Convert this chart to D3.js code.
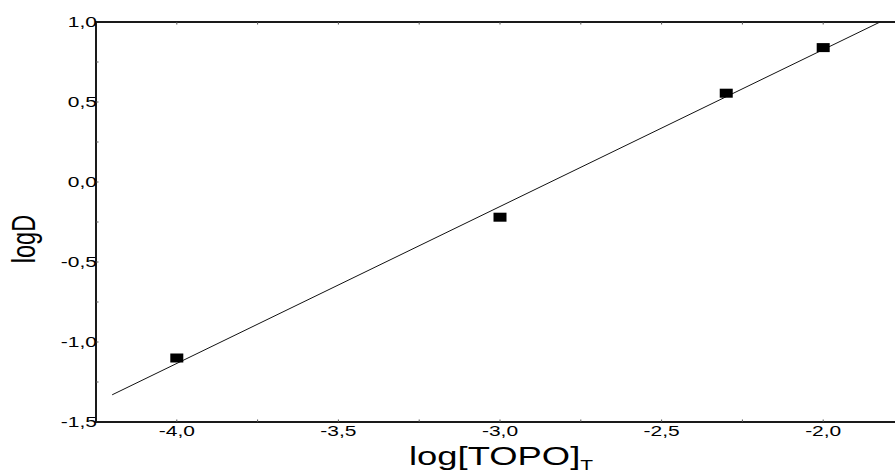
<!DOCTYPE html>
<html>
<head>
<meta charset="utf-8">
<script src="https://cdn.jsdelivr.net/npm/d3@7"></script>
<style>
  html, body { margin: 0; padding: 0; background: #fff; }
  svg { display: block; }
  text { font-family: "Liberation Sans", Arial, Helvetica, sans-serif; fill: #000; }
</style>
</head>
<body>
<svg id="chart" width="895" height="472"></svg>
<script>
// ---- data ----
const logTOPO = [-4.0, -3.0, -2.3, -2.0];
const logD = [-1.10, -0.22, 0.555, 0.84];
const fitX = [-4.2, -1.824];
const fitY = [-1.33, 1.0];
const xTickValues = [-4.0, -3.5, -3.0, -2.5, -2.0];
const xTickLabels = ["-4,0", "-3,5", "-3,0", "-2,5", "-2,0"];
const yTickValues = [1.0, 0.5, 0.0, -0.5, -1.0, -1.5];
const yTickLabels = ["1,0", "0,5", "0,0", "-0,5", "-1,0", "-1,5"];
const xMinorTicks = [-4.0, -3.75, -3.5, -3.25, -3.0, -2.75, -2.5, -2.25, -2.0];
const yMinorTicks = [0.75, 0.5, 0.25, 0.0, -0.25, -0.5, -0.75, -1.0, -1.25];

// ---- layout ----
const svg = d3.select("#chart");
const mLeft = 96, mTop = 22, mBottom = 422, mRight = 904;
const sx = 1.4; // horizontal stretch of text in the reference

const x = d3.scaleLinear().domain([-4.25, -1.75]).range([mLeft, mRight]);
const y = d3.scaleLinear().domain([-1.5, 1.0]).range([mBottom, mTop]);

// frame
const frame = svg.append("g").attr("stroke", "#1a1a1a").attr("stroke-width", 2).attr("fill", "none");
frame.append("line").attr("x1", mLeft).attr("x2", mRight).attr("y1", mTop).attr("y2", mTop);
frame.append("line").attr("x1", mLeft).attr("x2", mRight).attr("y1", mBottom).attr("y2", mBottom);
frame.append("line").attr("x1", mLeft).attr("x2", mLeft).attr("y1", mTop - 1).attr("y2", mBottom + 1);

// minor ticks (tiny, inward)
const ticks = svg.append("g").attr("stroke", "#555").attr("stroke-width", 1);
xMinorTicks.forEach(v => {
  ticks.append("line").attr("x1", x(v)).attr("x2", x(v)).attr("y1", mTop).attr("y2", mTop + 2.5);
  ticks.append("line").attr("x1", x(v)).attr("x2", x(v)).attr("y1", mBottom).attr("y2", mBottom - 2.5);
});
yMinorTicks.forEach(v => {
  ticks.append("line").attr("x1", mLeft).attr("x2", mLeft + 2.5).attr("y1", y(v)).attr("y2", y(v));
});

// x tick labels
xTickValues.forEach((v, i) => {
  svg.append("text")
    .attr("transform", `translate(${x(v)},436) scale(${sx},1)`)
    .attr("text-anchor", "middle")
    .attr("font-size", 15)
    .text(xTickLabels[i]);
});

// y tick labels
yTickValues.forEach((v, i) => {
  svg.append("text")
    .attr("transform", `translate(97,${y(v) + 5.3}) scale(${sx},1)`)
    .attr("text-anchor", "end")
    .attr("font-size", 15)
    .text(yTickLabels[i]);
});

// fit line
svg.append("line")
  .attr("x1", x(fitX[0])).attr("y1", y(fitY[0]))
  .attr("x2", x(fitX[1])).attr("y2", y(fitY[1]))
  .attr("stroke", "#111").attr("stroke-width", 1);

// markers
svg.append("g").selectAll("rect")
  .data(logTOPO.map((v, i) => [v, logD[i]]))
  .join("rect")
  .attr("x", d => x(d[0]) - 6.5)
  .attr("y", d => y(d[1]) - 4.5)
  .attr("width", 13)
  .attr("height", 9)
  .attr("fill", "#000");

// axis titles
const xt = svg.append("text")
  .attr("transform", `translate(409,465) scale(${sx},1)`)
  .attr("font-size", 26);
xt.append("tspan").text("log[TOPO]");
xt.append("tspan").attr("font-size", 15).attr("dy", 5).text("T");

svg.append("text")
  .attr("transform", `translate(35,239) scale(${sx},1) rotate(-90)`)
  .attr("text-anchor", "middle")
  .attr("font-size", 23.5)
  .text("logD");
</script>
</body>
</html>
